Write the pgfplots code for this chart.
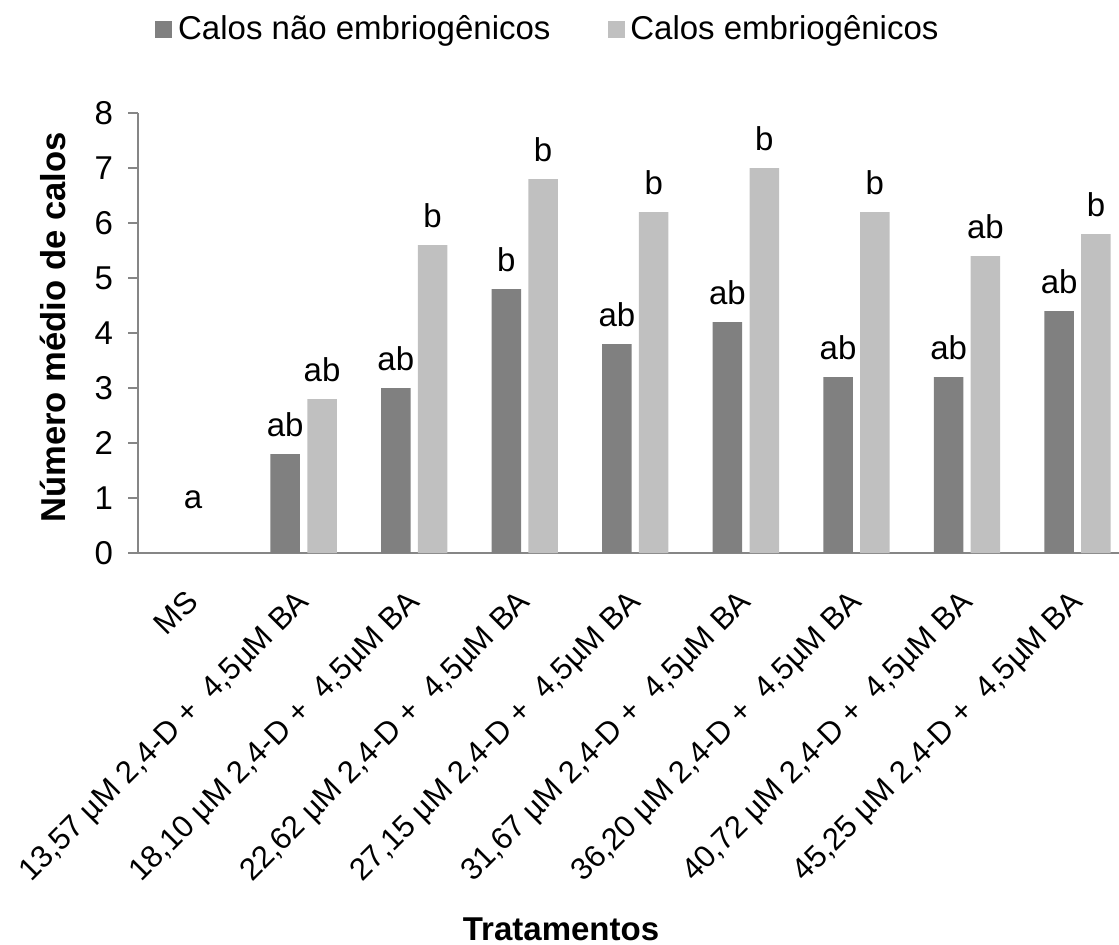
\documentclass[border=0pt]{standalone}
\usepackage{fontspec}
\setmainfont{Liberation Sans}
\usepackage{pgfplots}
\pgfplotsset{compat=1.18}
\definecolor{darkbar}{HTML}{808080}
\definecolor{lightbar}{HTML}{C0C0C0}
\definecolor{axgray}{HTML}{868686}
\newcommand{\fs}{\fontsize{16.5}{19.8}\selectfont}
\newcommand{\fx}{\fontsize{15.5}{18.6}\selectfont}
\newcommand{\fl}{\fontsize{17.3}{20.8}\selectfont}
\begin{document}
\begin{tikzpicture}
\useasboundingbox (0,0) rectangle (559.5pt,472pt);
\begin{axis}[
  at={(68.9pt,195.5pt)}, anchor=south west,
  width=490.6pt, height=220pt, scale only axis,
  xmin=-0.5, xmax=8.375, ymin=0, ymax=8,
  ybar, bar width=14.75pt,
  clip=false,
  axis x line=bottom, axis y line=left,
  axis line style={axgray, line width=0.8pt, -},
  ytick={0,1,2,3,4,5,6,7,8},
  xtick={0,1,2,3,4,5,6,7,8},
  xticklabels={MS,
    {13,57 µM 2,4-D + \ 4,5µM BA},
    {18,10 µM 2,4-D + \ 4,5µM BA},
    {22,62 µM 2,4-D + \ 4,5µM BA},
    {27,15 µM 2,4-D + \ 4,5µM BA},
    {31,67 µM 2,4-D + \ 4,5µM BA},
    {36,20 µM 2,4-D + \ 4,5µM BA},
    {40,72 µM 2,4-D + \ 4,5µM BA},
    {45,25 µM 2,4-D + \ 4,5µM BA}},
  x tick style={draw=none},
  y tick style={axgray, line width=0.8pt},
  tick align=outside, major tick length=4.7pt,
  /pgf/number format/assume math mode=true,
  tick label style={font=\fs},
  yticklabel style={anchor=east, inner sep=0pt, xshift=-7.5pt},
  xticklabel style={font=\fx, yshift=-20.5pt, xshift=3.5pt, rotate=45, anchor=base east, inner sep=0pt},
  xlabel={Tratamentos},
  ylabel={Número médio de calos},
  xlabel style={font=\bfseries\fs, at={(axis description cs:0.4313,-0.8818)}, anchor=base},
  ylabel style={font=\bfseries\fl, at={(axis description cs:-0.0864,0.5125)}, anchor=center},
  legend columns=2,
  legend cell align=left,
  legend style={draw=none, fill=none, font=\fs, inner sep=0pt,
    at={(axis description cs:0.0175,1.1909)}, anchor=west,
    nodes={inner sep=0pt},
    /tikz/every odd column/.append style={column sep=3pt},
    /tikz/every even column/.append style={column sep=28.5pt}},
]
\addlegendimage{legend image code/.code={\fill[darkbar] (0pt,-4pt) rectangle (8pt,4pt);}}
\addlegendentry{Calos não embriogênicos}
\addlegendimage{legend image code/.code={\fill[lightbar] (0pt,-4pt) rectangle (8pt,4pt);}}
\addlegendentry{Calos embriogênicos}

\addplot[forget plot, fill=darkbar, draw=none, bar shift=-9.2pt,
  nodes near coords, point meta=explicit symbolic,
  nodes near coords style={font=\fs, anchor=base, inner sep=0pt, yshift=9pt}]
  coordinates {(1,1.8) [ab] (2,3.0) [ab] (3,4.8) [b] (4,3.8) [ab]
               (5,4.2) [ab] (6,3.2) [ab] (7,3.2) [ab] (8,4.4) [ab]};
\addplot[forget plot, fill=lightbar, draw=none, bar shift=9.2pt,
  nodes near coords, point meta=explicit symbolic,
  nodes near coords style={font=\fs, anchor=base, inner sep=0pt, yshift=9pt}]
  coordinates {(1,2.8) [ab] (2,5.6) [b] (3,6.8) [b] (4,6.2) [b]
               (5,7.0) [b] (6,6.2) [b] (7,5.4) [ab] (8,5.8) [b]};
\addplot[forget plot, fill=none, draw=none, bar shift=0pt,
  nodes near coords, point meta=explicit symbolic,
  nodes near coords style={font=\fs, anchor=base, inner sep=0pt, yshift=22.5pt}]
  coordinates {(0,0) [a]};
\end{axis}
\end{tikzpicture}
\end{document}
